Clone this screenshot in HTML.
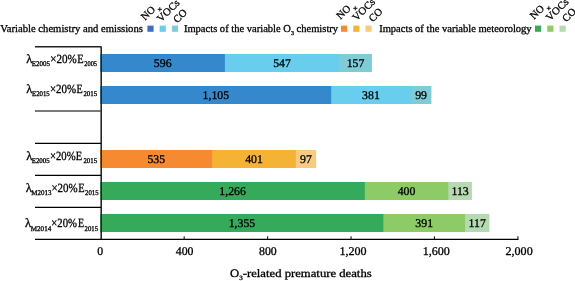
<!DOCTYPE html>
<html><head><meta charset="utf-8"><title>chart</title>
<style>
html,body{margin:0;padding:0;background:#fff;}
body{width:575px;height:281px;overflow:hidden;}
svg{display:block;font-family:"Liberation Serif",serif;fill:#000;text-rendering:geometricPrecision;will-change:transform;}
text{stroke:#000;stroke-width:0.3px;}
.v{font-size:11.8px;text-anchor:middle;}
.t{font-size:11.8px;text-anchor:middle;}
.l{font-size:10.6px;}
.r{font-size:10.4px;}
.y{font-size:12.5px;}
.s{font-size:7.2px;}
</style></head><body>
<svg width="575" height="281" viewBox="0 0 575 281">
<rect width="575" height="281" fill="#fff"/>
<rect x="100.47" y="54" width="271.43" height="18" fill="#7FCBD6"/>
<rect x="100.47" y="54" width="238.65" height="18" fill="#69CDEE"/>
<rect x="100.47" y="54" width="124.44" height="18" fill="#3588CB"/>
<text class="v" x="162.69" y="67.1">596</text>
<text class="v" x="282.01" y="67.1">547</text>
<text class="v" x="355.51" y="67.1">157</text>
<rect x="100.47" y="86" width="330.93" height="18" fill="#7FCBD6"/>
<rect x="100.47" y="86" width="310.26" height="18" fill="#69CDEE"/>
<rect x="100.47" y="86" width="230.71" height="18" fill="#3588CB"/>
<text class="v" x="215.83" y="99.1">1,105</text>
<text class="v" x="370.96" y="99.1">381</text>
<text class="v" x="421.07" y="99.1">99</text>
<rect x="100.47" y="150" width="215.68" height="18" fill="#F7CC80"/>
<rect x="100.47" y="150" width="195.43" height="18" fill="#F5B335"/>
<rect x="100.47" y="150" width="111.70" height="18" fill="#F58A30"/>
<text class="v" x="156.32" y="163.1">535</text>
<text class="v" x="254.04" y="163.1">401</text>
<text class="v" x="306.02" y="163.1">97</text>
<rect x="100.47" y="182" width="371.44" height="18" fill="#B5D9B0"/>
<rect x="100.47" y="182" width="347.84" height="18" fill="#8CCB66"/>
<rect x="100.47" y="182" width="264.33" height="18" fill="#35AA5B"/>
<text class="v" x="232.63" y="195.1">1,266</text>
<text class="v" x="406.56" y="195.1">400</text>
<text class="v" x="460.11" y="195.1">113</text>
<rect x="100.47" y="214" width="388.98" height="18" fill="#B5D9B0"/>
<rect x="100.47" y="214" width="364.55" height="18" fill="#8CCB66"/>
<rect x="100.47" y="214" width="282.91" height="18" fill="#35AA5B"/>
<text class="v" x="241.93" y="227.1">1,355</text>
<text class="v" x="424.20" y="227.1">391</text>
<text class="v" x="477.23" y="227.1">117</text>
<g stroke="#1a1a1a" stroke-width="1.2" fill="none">
<path d="M35 46.8H100.7Q101.2 46.8 101.2 47.3V240" stroke-width="1.55" stroke="#222" stroke-linejoin="round"/>
<path d="M35 239.35H518.5" stroke="#000" stroke-width="1.25"/>
<path d="M35 111H101" stroke="#4d4d4d" stroke-width="1.5"/>
<path d="M35 143.3H101" stroke="#000"/>
<path d="M35 175.4H101" stroke="#000"/>
<path d="M35 207.3H101" stroke="#000"/>
<path d="M184.18 239.4V236.3" stroke-width="1.1"/>
<path d="M267.61 239.4V236.3" stroke-width="1.1"/>
<path d="M351.05 239.4V236.3" stroke-width="1.1"/>
<path d="M434.48 239.4V236.3" stroke-width="1.1"/>
<path d="M517.91 239.4V236.3" stroke-width="1.1"/>
</g>
<text class="t" x="100.20" y="254.8">0</text>
<text class="t" x="184.60" y="254.8">400</text>
<text class="t" x="267.90" y="254.8">800</text>
<text class="t" x="353.00" y="254.8" textLength="27.2" lengthAdjust="spacingAndGlyphs">1,200</text>
<text class="t" x="436.30" y="254.8" textLength="27.2" lengthAdjust="spacingAndGlyphs">1,600</text>
<text class="t" x="519.10" y="254.8" textLength="27.2" lengthAdjust="spacingAndGlyphs">2,000</text>
<text class="y" style="font-size:11.3px" x="230" y="276.6" textLength="141.7" lengthAdjust="spacingAndGlyphs">O<tspan style="font-size:6.4px" dy="3.7">3</tspan><tspan dy="-3.7">-related premature deaths</tspan></text>
<text class="y" x="26.3" y="62.6">λ</text>
<text class="s" x="31.7" y="65.9" textLength="18.2" lengthAdjust="spacingAndGlyphs">E2005</text>
<text class="y" x="50.3" y="62.6" textLength="26.5" lengthAdjust="spacingAndGlyphs">×20%</text>
<text class="y" x="77.2" y="62.6" textLength="6.4" lengthAdjust="spacingAndGlyphs">E</text>
<text class="s" x="84.3" y="65.9" textLength="12.7" lengthAdjust="spacingAndGlyphs">2005</text>
<text class="y" x="26.3" y="92.9">λ</text>
<text class="s" x="32.0" y="96.2" textLength="17.7" lengthAdjust="spacingAndGlyphs">E2015</text>
<text class="y" x="49.9" y="92.9" textLength="26.2" lengthAdjust="spacingAndGlyphs">×20%</text>
<text class="y" x="76.5" y="92.9" textLength="6.2" lengthAdjust="spacingAndGlyphs">E</text>
<text class="s" x="83.4" y="96.2" textLength="13.7" lengthAdjust="spacingAndGlyphs">2015</text>
<text class="y" x="26.3" y="159.9">λ</text>
<text class="s" x="31.7" y="163.2" textLength="18.0" lengthAdjust="spacingAndGlyphs">E2005</text>
<text class="y" x="49.9" y="159.9" textLength="25.7" lengthAdjust="spacingAndGlyphs">×20%</text>
<text class="y" x="75.7" y="159.9" textLength="6.4" lengthAdjust="spacingAndGlyphs">E</text>
<text class="s" x="83.4" y="163.2" textLength="13.7" lengthAdjust="spacingAndGlyphs">2015</text>
<text class="y" x="25.7" y="192.0">λ</text>
<text class="s" x="31.2" y="195.3" textLength="20.2" lengthAdjust="spacingAndGlyphs">M2013</text>
<text class="y" x="51.4" y="192.0" textLength="26.2" lengthAdjust="spacingAndGlyphs">×20%</text>
<text class="y" x="78.3" y="192.0" textLength="6.4" lengthAdjust="spacingAndGlyphs">E</text>
<text class="s" x="85.0" y="195.3" textLength="13.5" lengthAdjust="spacingAndGlyphs">2015</text>
<text class="y" x="25.1" y="227.4">λ</text>
<text class="s" x="30.8" y="230.7" textLength="20.4" lengthAdjust="spacingAndGlyphs">M2014</text>
<text class="y" x="51.3" y="227.4" textLength="25.6" lengthAdjust="spacingAndGlyphs">×20%</text>
<text class="y" x="77.9" y="227.4" textLength="6.1" lengthAdjust="spacingAndGlyphs">E</text>
<text class="s" x="84.6" y="230.7" textLength="13.5" lengthAdjust="spacingAndGlyphs">2015</text>
<text class="l" x="0.3" y="32.0" textLength="142.6" lengthAdjust="spacingAndGlyphs">Variable chemistry and emissions</text>
<rect x="147.40" y="25.6" width="6.2" height="6.2" fill="#3D6FBF"/>
<rect x="159.65" y="25.6" width="6.2" height="6.2" fill="#69CDEE"/>
<rect x="171.90" y="25.6" width="6.2" height="6.2" fill="#7FCBD6"/>
<g transform="translate(0 0)">
<g class="r" transform="translate(145.10 20.8) rotate(-45)"><text x="0" y="0" textLength="15.0" lengthAdjust="spacingAndGlyphs">NO</text></g>
<path d="M157.70 9.3h4.2M159.80 7.2v4.2" stroke="#111" stroke-width="1" fill="none"/>
<text class="r" transform="translate(161.10 22.6) rotate(-45)" textLength="27" lengthAdjust="spacingAndGlyphs">VOCs</text>
<text class="r" transform="translate(177.30 23.4) rotate(-45)" textLength="14.6" lengthAdjust="spacingAndGlyphs">CO</text>
</g>
<text class="l" x="183.9" y="32.0" textLength="154.2" lengthAdjust="spacingAndGlyphs">Impacts of the variable O<tspan style="font-size:6px" dy="3.1">3</tspan><tspan dy="-3.1"> chemistry</tspan></text>
<rect x="341.00" y="25.6" width="6.2" height="6.2" fill="#F58A30"/>
<rect x="353.25" y="25.6" width="6.2" height="6.2" fill="#F5B335"/>
<rect x="365.50" y="25.6" width="6.2" height="6.2" fill="#F7CC80"/>
<g transform="translate(1.9 -1.0)">
<g class="r" transform="translate(338.70 20.8) rotate(-45)"><text x="0" y="0" textLength="15.0" lengthAdjust="spacingAndGlyphs">NO</text></g>
<path d="M351.30 9.3h4.2M353.40 7.2v4.2" stroke="#111" stroke-width="1" fill="none"/>
<text class="r" transform="translate(354.70 22.6) rotate(-45)" textLength="27" lengthAdjust="spacingAndGlyphs">VOCs</text>
<text class="r" transform="translate(370.90 23.4) rotate(-45)" textLength="14.6" lengthAdjust="spacingAndGlyphs">CO</text>
</g>
<text class="l" x="379.2" y="32.0" textLength="152.4" lengthAdjust="spacingAndGlyphs">Impacts of the variable meteorology</text>
<rect x="535.00" y="25.6" width="6.2" height="6.2" fill="#35AA5B"/>
<rect x="547.25" y="25.6" width="6.2" height="6.2" fill="#8CCB66"/>
<rect x="559.50" y="25.6" width="6.2" height="6.2" fill="#B5D9B0"/>
<g transform="translate(1.4 -1.0)">
<g class="r" transform="translate(532.70 20.8) rotate(-45)"><text x="0" y="0" textLength="15.0" lengthAdjust="spacingAndGlyphs">NO</text></g>
<path d="M545.30 9.3h4.2M547.40 7.2v4.2" stroke="#111" stroke-width="1" fill="none"/>
<text class="r" transform="translate(548.70 22.6) rotate(-45)" textLength="27" lengthAdjust="spacingAndGlyphs">VOCs</text>
<text class="r" transform="translate(564.90 23.4) rotate(-45)" textLength="14.6" lengthAdjust="spacingAndGlyphs">CO</text>
</g>
</svg></body></html>
